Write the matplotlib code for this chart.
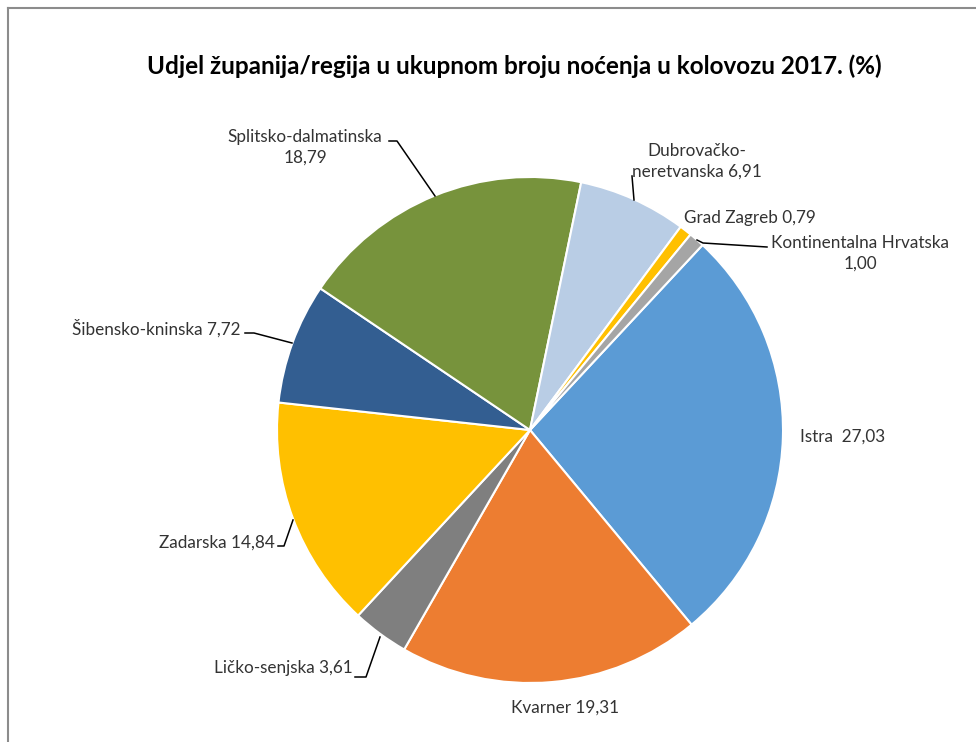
import matplotlib.pyplot as plt
from matplotlib.lines import Line2D

plt.rcParams['font.family'] = ['Lato', 'DejaVu Sans']

regions = ['Istra', 'Kvarner', 'Ličko-senjska', 'Zadarska', 'Šibensko-kninska',
           'Splitsko-dalmatinska', 'Dubrovačko-neretvanska', 'Grad Zagreb',
           'Kontinentalna Hrvatska']
shares = [27.03, 19.31, 3.61, 14.84, 7.72, 18.79, 6.91, 0.79, 1.00]
labels = ['Istra  27,03', 'Kvarner 19,31', 'Ličko-senjska 3,61', 'Zadarska 14,84',
          'Šibensko-kninska 7,72', 'Splitsko-dalmatinska\n18,79',
          'Dubrovačko-\nneretvanska 6,91', 'Grad Zagreb 0,79',
          'Kontinentalna Hrvatska\n1,00']
colors = ['#5B9BD5', '#ED7D31', '#7F7F7F', '#FFC000', '#335E91',
          '#77933C', '#B9CDE5', '#FFC000', '#A5A5A5']

W, H = 976, 742
cx, cy, R = 530, 430, 253

fig = plt.figure(figsize=(W / 100, H / 100), dpi=100)
ax = fig.add_axes([(cx - R) / W, (H - cy - R) / H, 2 * R / W, 2 * R / H])

ax.pie(shares, colors=colors, startangle=47, counterclock=False, radius=1,
       wedgeprops=dict(edgecolor='white', linewidth=1.5))
ax.set_xlim(-1, 1)
ax.set_ylim(-1, 1)
ax.set_aspect('equal')
ax.axis('off')


def d(px, py):
    return (px - cx) / R, (cy - py) / R


# label positions (pixel), alignment, leader line points
layout = [
    ((800, 437), 'left', None),
    ((565, 708), 'center', None),
    ((353, 668), 'right', [(355, 677), (366, 677), (380, 637)]),
    ((275, 543), 'right', [(278, 546), (284, 546), (293, 520)]),
    ((241, 328), 'right', [(245, 333), (254, 333), (292, 343)]),
    ((305, 147), 'center', [(389, 141), (397, 141), (435, 196)]),
    ((697, 161), 'center', [(632, 176), (634, 200)]),
    ((750, 218), 'center', None),
    ((860, 253), 'center', [(697, 240), (703, 243), (767, 247)]),
]

for lab, (pos, ha, leader) in zip(labels, layout):
    x, y = d(*pos)
    ax.text(x, y, lab, ha=ha, va='center', fontsize=12.3, color='#333333',
            linespacing=1.35, clip_on=False)
    if leader:
        xs, ys = zip(*[d(*p) for p in leader])
        ax.plot(xs, ys, color='black', linewidth=1.1, clip_on=False)

fig.text(514 / W, 1 - 66 / H,
         'Udjel županija/regija u ukupnom broju noćenja u kolovozu 2017. (%)',
         ha='center', va='center', fontsize=17.5, fontweight='bold', color='black')

# chart frame
fig.add_artist(Line2D([8 / W, 1], [1 - 7.5 / H, 1 - 7.5 / H], color='#8C8C8C',
                      linewidth=1.5, transform=fig.transFigure))
fig.add_artist(Line2D([8 / W, 8 / W], [0, 1 - 7.5 / H], color='#8C8C8C',
                      linewidth=1.5, transform=fig.transFigure))

fig.savefig('out.png', dpi=100, facecolor='white')
